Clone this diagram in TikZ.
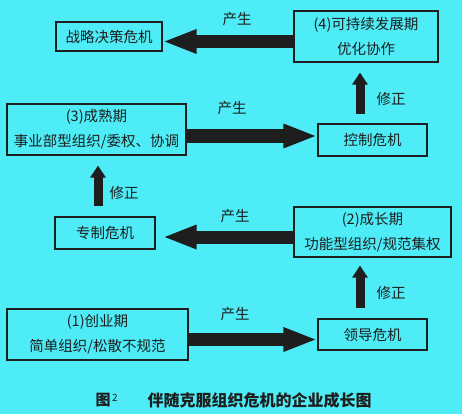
\documentclass[tikz,border=0pt]{standalone}
\usepackage{fontspec}
\setmainfont{Noto Sans CJK SC}
\usetikzlibrary{arrows.meta}
\definecolor{bg}{RGB}{78,236,246}
\definecolor{ink}{RGB}{30,30,30}
\tikzset{
  box/.style={draw=ink, line width=1.2pt, fill=bg, inner sep=0pt, align=center,
    font=\fontsize{14.5}{25}\selectfont, text=ink},
  bigarrow/.style={draw=ink, line width=13pt, -{Triangle[length=34pt,width=22pt]}},
  uparrow/.style={draw=ink, line width=9pt, -{Triangle[length=12pt,width=15pt]}},
  lbl/.style={font=\fontsize{14.5}{16}\selectfont, text=ink, inner sep=0pt}
}
\begin{document}
\begin{tikzpicture}[x=1pt,y=-1pt]
\fill[bg] (0,0) rectangle (462,414);
\useasboundingbox (0,0) rectangle (462,414);
% boxes
\node[box, minimum width=106pt, minimum height=29pt] (strat) at (109,36.5) {战略决策危机};
\node[box, minimum width=144pt, minimum height=51pt] (p4) at (366,36.5) {(4)可持续发展期\\优化协作};
\node[box, minimum width=179pt, minimum height=51pt] (p3) at (96.5,129.5) {(3)成熟期\\事业部型组织/委权、协调};
\node[box, minimum width=109pt, minimum height=32pt] (ctrl) at (372.5,140) {控制危机};
\node[box, minimum width=100pt, minimum height=32pt] (desp) at (105,233) {专制危机};
\node[box, minimum width=157pt, minimum height=50pt] (p2) at (372.5,232) {(2)成长期\\功能型组织/规范集权};
\node[box, minimum width=181pt, minimum height=51pt] (p1) at (97.5,334.5) {(1)创业期\\简单组织/松散不规范};
\node[box, minimum width=109pt, minimum height=31pt] (lead) at (372.5,334.5) {领导危机};
% horizontal arrows
\draw[bigarrow] ([yshift=-5pt]p4.west) -- ([yshift=-5pt]strat.east);
\draw[bigarrow] ([yshift=-6.5pt]p3.east) -- ([yshift=4pt]ctrl.west);
\draw[bigarrow, shorten >=7pt] ([yshift=-5pt]p2.west) -- ([yshift=-4pt]desp.east);
\draw[bigarrow] ([yshift=-5pt]p1.east) -- ([yshift=-5pt]lead.west);
% vertical arrows
\draw[uparrow, shorten <=9pt, shorten >=10pt] ([xshift=-12.5pt]ctrl.north) -- ([xshift=-12.5pt]ctrl.north |- p4.south);
\draw[uparrow, shorten <=10pt, shorten >=10pt] ([xshift=-7pt]desp.north) -- ([xshift=-7pt]desp.north |- p3.south);
\draw[uparrow, shorten <=10pt, shorten >=8pt] ([xshift=-12.5pt]lead.north) -- ([xshift=-12.5pt]lead.north |- p2.south);
% labels
\node[lbl] (g1) at (237,19) {产生};
\node[lbl] (g2) at (232,108) {产生};
\node[lbl] (g3) at (235,216) {产生};
\node[lbl] (g4) at (235,314) {产生};
\node[lbl] (x1) at (391,99) {修正};
\node[lbl] (x2) at (124,193) {修正};
\node[lbl] (x3) at (391,293) {修正};
% caption
\node[lbl, font=\fontsize{15}{18}\selectfont\bfseries] (c1) at (103,400) {图};
\node[lbl, font=\fontsize{10}{12}\selectfont] (c2) at (115,398) {2};
\node[lbl, font=\fontsize{16}{18}\selectfont\bfseries] (c3) at (259.5,400) {伴随克服组织危机的企业成长图};
\end{tikzpicture}
\end{document}
